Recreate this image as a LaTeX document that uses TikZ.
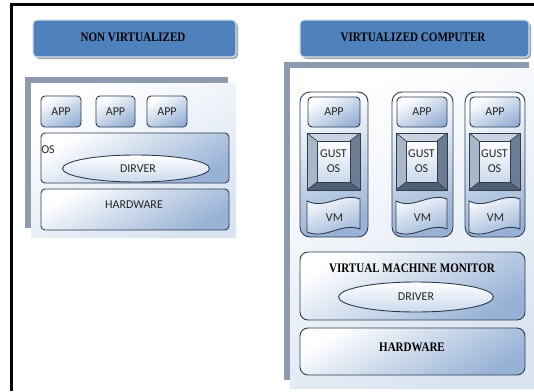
\documentclass[tikz,border=0pt]{standalone}
\usepackage{fontspec}
\usetikzlibrary{shapes.geometric}
\newfontfamily\serifb[FakeStretch=0.85]{Liberation Serif}
\newfontfamily\calib{Carlito}
\definecolor{titleblue}{HTML}{4F81BD}
\definecolor{boxedge}{HTML}{2E3C50}
\definecolor{lb}{HTML}{98B2D6}
\definecolor{lb2}{HTML}{CCDAEC}
\definecolor{panelgray}{HTML}{8E9BAE}
\definecolor{panelfill}{HTML}{DAE4F1}
\definecolor{bvtop}{HTML}{C9D3DF}
\definecolor{bvleft}{HTML}{A9B7C8}
\definecolor{bvbot}{HTML}{4E5F75}
\definecolor{bvright}{HTML}{6B7C93}
\tikzset{
  titlebox/.style={rounded corners=4pt, fill=titleblue, draw=white!75!titleblue, line width=1.2pt},
  titleshadow/.style={rounded corners=4pt, fill=black!35},
  titletext/.style={font=\serifb\bfseries\fontsize{13}{14}\selectfont, text=black, inner sep=0pt},
  sbox/.style={rounded corners=4pt, draw=boxedge, line width=0.9pt, top color=white, bottom color=lb, shading angle=30},
  colbox/.style={rounded corners=10pt, draw=boxedge, line width=0.9pt, top color=white, bottom color=lb, shading angle=20},
  ellbox/.style={draw=boxedge, line width=0.9pt, top color=white, bottom color=lb2},
  stext/.style={font=\calib\fontsize{12}{13}\selectfont, text=black!85, inner sep=0pt},
  panelback/.style={fill=panelgray},
  panelfront/.style={top color=white, bottom color=panelfill, shading angle=30},
}
\begin{document}
\begin{tikzpicture}[x=1pt,y=-1pt]
\useasboundingbox (0,0) rectangle (534,391);
\fill[white] (0,0) rectangle (534,391);
% frame
\draw[line width=3pt] (11.5,391) -- (11.5,4) -- (534,4);

% ---------- left side ----------
\fill[titleshadow] (35,22) rectangle (238,59);
\draw[titlebox] (33,20) rectangle (236,57);
\node[titletext] (t1) at (133,37) {NON VIRTUALIZED};

\fill[panelback] (25,77) rectangle (228,228);
\shade[panelfront] (31,83) rectangle (236,237);

\foreach \a/\b [count=\i] in {41/81, 96/135, 147/187}{
  \draw[sbox] (\a,96) rectangle (\b,127);
  \node[stext] (lapp\i) at ({(\a+\b)/2},111.5) {APP};
}
\draw[sbox] (41,133) rectangle (229,183);
\node[stext] (los) at (48,150) {OS};
\node[ellbox, ellipse, minimum width=147pt, minimum height=27pt, inner sep=0pt] (ldrv) at (136,168.5) {};
\node[stext] (ldrvt) at (138,168.5) {DIRVER};
\draw[sbox] (41,189) rectangle (229,230);
\node[stext] (lhw) at (134,205) {HARDWARE};

% ---------- right side ----------
\fill[titleshadow] (302,22) rectangle (531,59);
\draw[titlebox] (300,20) rectangle (529,57);
\node[titletext] (t2) at (413,37) {VIRTUALIZED COMPUTER};

\fill[panelback] (284,62) rectangle (529,380);
\shade[panelfront] (290,68) rectangle (545,388);

\foreach \oa/\ob/\a/\b [count=\i] in {300/368/307/360, 392/453/396/447, 465/525/469/520}{
  \draw[colbox] (\oa,92) rectangle (\ob,237);
  \draw[sbox] (\a+1,97) rectangle (\b,127);
  \node[stext] (rapp\i) at ({(\a+\b)/2+0.5},112) {APP};
  % bevelled guest OS box
  \fill[bvright] (\a,133) rectangle (\b,190);
  \fill[bvtop] (\a,133) -- (\b,133) -- (\b-10,141) -- (\a+10,141) -- cycle;
  \fill[bvleft] (\a,133) -- (\a+10,141) -- (\a+10,182) -- (\a,190) -- cycle;
  \fill[bvbot] (\a,190) -- (\b,190) -- (\b-10,182) -- (\a+10,182) -- cycle;
  \fill[bvright] (\b,133) -- (\b,190) -- (\b-10,182) -- (\b-10,141) -- cycle;
  \shade[top color=white, bottom color=lb2] (\a+10,141) rectangle (\b-10,182);
  \draw[boxedge, line width=0.6pt] (\a,133) -- (\a+10,141) (\b,133) -- (\b-10,141) (\a,190) -- (\a+10,182) (\b,190) -- (\b-10,182);
  \draw[boxedge, line width=0.6pt] (\a+10,141) rectangle (\b-10,182);
  \draw[boxedge, line width=0.9pt] (\a,133) rectangle (\b,190);
  \node[stext, align=center] (gust\i) at ({(\a+\b)/2},161.5) {GUST\\[2pt]OS};
  % wavy VM shape
  \draw[boxedge, line width=0.9pt, top color=white, bottom color=lb, shading angle=20]
    (\a,201) .. controls ({\a+0.35*(\b-\a)},210) and ({\a+0.65*(\b-\a)},192) .. (\b,199)
    -- (\b,229) .. controls ({\a+0.65*(\b-\a)},222) and ({\a+0.35*(\b-\a)},240) .. (\a,232) -- cycle;
  \node[stext] (vm\i) at ({(\a+\b)/2+1},218) {VM};
}

\draw[sbox, rounded corners=8pt] (300,252) rectangle (525,320);
\node[titletext] (vmm) at (412,268) {VIRTUAL MACHINE MONITOR};
\node[ellbox, ellipse, minimum width=155pt, minimum height=30pt, inner sep=0pt] (rdrv) at (416,297) {};
\node[stext] (rdrvt) at (416,297) {DRIVER};
\draw[sbox, rounded corners=8pt] (300,328) rectangle (525,375);
\node[titletext] (rhw) at (412,347) {HARDWARE};
\end{tikzpicture}
\end{document}
